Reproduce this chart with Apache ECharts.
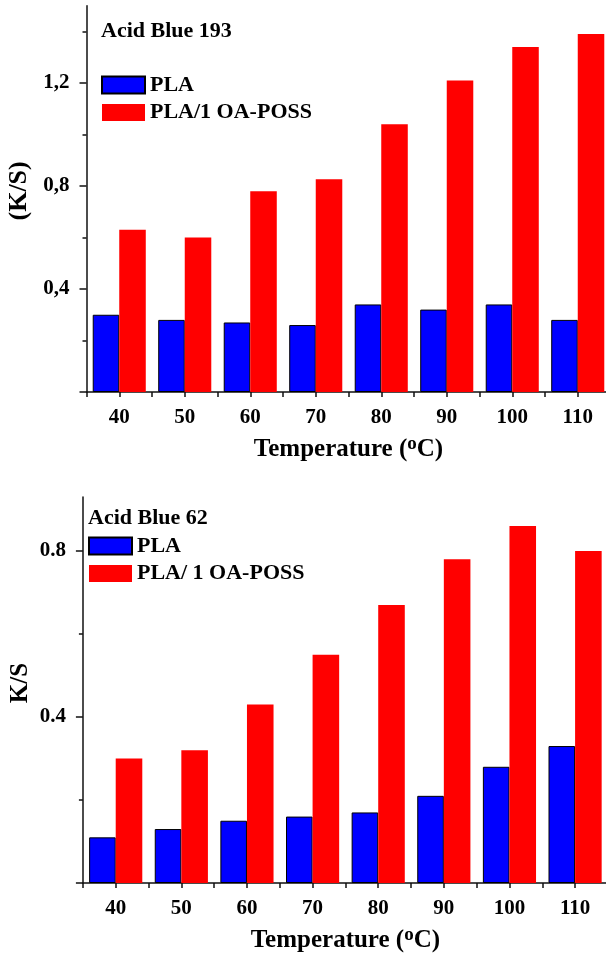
<!DOCTYPE html>
<html>
<head>
<meta charset="utf-8">
<script src="https://cdn.jsdelivr.net/npm/echarts@6/dist/echarts.min.js"></script>
<style>
  html, body { margin: 0; padding: 0; background: #fff; }
  #chart { width: 606px; height: 961px; }
</style>
</head>
<body>
<div id="chart"></div>
<script>
// temperatures (°C) on the x axis of both panels
const temps = ['40', '50', '60', '70', '80', '90', '100', '110']

// Acid Blue 193 panel (K/S)
const pla193  = [0.30, 0.28, 0.27, 0.26, 0.34, 0.32, 0.34, 0.28]
const poss193 = [0.63, 0.60, 0.78, 0.826, 1.04, 1.21, 1.34, 1.39]

// Acid Blue 62 panel (K/S)
const pla62  = [0.11, 0.13, 0.15, 0.16, 0.17, 0.21, 0.28, 0.33]
const poss62 = [0.30, 0.32, 0.43, 0.55, 0.67, 0.78, 0.86, 0.80]

// y axis ticks
const ticks193  = [0, 0.4, 0.8, 1.2]
const minor193  = [0.2, 0.6, 1.0, 1.4]
const labels193 = [0.4, 0.8, 1.2]
const ticks62   = [0, 0.4, 0.8]
const minor62   = [0.2, 0.6]
const labels62  = [0.4, 0.8]

const FONT = "'Liberation Serif', 'Times New Roman', serif"
const BLUE = '#0000FF'
const RED  = '#FF0000'
const AXIS = '#111'

// "Temperature (oC)" with a raised o
const tempName = '{n|Temperature (}{s|o}{n|C)}'
const tempRich = {
  n: { fontSize: 25, lineHeight: 25, fontWeight: 'bold', fontFamily: FONT, color: '#000', verticalAlign: 'bottom' },
  s: { fontSize: 19, lineHeight: 18, fontWeight: 'bold', fontFamily: FONT, color: '#000', verticalAlign: 'bottom', padding: [0, 0, 8, 0] },
}

function catAxis(grid, withLine) {
  return {
    type: 'category',
    gridIndex: grid,
    data: temps,
    position: 'bottom',
    axisLine: { show: withLine, lineStyle: { color: AXIS, width: 1.5 } },
    axisTick: { show: true, alignWithLabel: !withLine, length: 5, lineStyle: { color: AXIS, width: 1.5 } },
    axisLabel: {
      show: withLine, margin: 15,
      color: '#000', fontSize: 21, fontWeight: 'bold', fontFamily: FONT,
    },
    name: withLine ? tempName : '',
    nameLocation: 'middle',
    nameGap: 45,
    nameTextStyle: { rich: tempRich },
  }
}

function valAxis(grid, max, tickVals, labelVals, name, size, gap, pad, comma) {
  return {
    type: 'value',
    gridIndex: grid,
    position: 'left',
    min: 0,
    max: max,
    splitLine: { show: false },
    axisLine: { show: true, onZero: false, lineStyle: { color: AXIS, width: 1.5 } },
    axisTick: { show: true, length: 7, customValues: tickVals, lineStyle: { color: AXIS, width: 1.5 } },
    axisLabel: {
      customValues: labelVals,
      margin: 17,
      color: '#000', fontSize: 21, fontWeight: 'bold', fontFamily: FONT,
      formatter: v => comma ? String(v).replace('.', ',') : String(v),
    },
    name: name,
    nameLocation: 'middle',
    nameGap: gap,
    nameMoveOverlap: false,
    nameTextStyle: { color: '#000', fontSize: size, fontWeight: 'bold', fontFamily: FONT, padding: pad },
  }
}

function minorAxis(grid, max, vals) {
  return {
    type: 'value',
    gridIndex: grid,
    position: 'left',
    min: 0,
    max: max,
    splitLine: { show: false },
    axisLine: { show: false },
    axisLabel: { show: false },
    axisTick: { show: true, length: 4, customValues: vals, lineStyle: { color: AXIS, width: 1.5 } },
  }
}

function bars(name, data, color, x, y, border) {
  return {
    name: name,
    type: 'bar',
    xAxisIndex: x,
    yAxisIndex: y,
    data: data,
    barGap: '0%',
    barCategoryGap: '19%',
    itemStyle: border
      ? { color: color, borderColor: '#000', borderWidth: 1 }
      : { color: color },
  }
}

const legendText = { color: '#000', fontSize: 22, fontWeight: 'bold', fontFamily: FONT }
const titleText  = { color: '#000', fontSize: 22, fontWeight: 'bold', fontFamily: FONT }

const option = {
  backgroundColor: '#fff',
  animation: false,
  title: [
    { text: 'Acid Blue 193', left: 101, top: 20, padding: 0, textStyle: titleText },
    { text: 'Acid Blue 62', left: 88, top: 507, padding: 0, textStyle: titleText },
  ],
  legend: [
    {
      orient: 'vertical', left: 101, top: 74, padding: 0,
      itemWidth: 43, itemHeight: 17, itemGap: 5.5,
      icon: 'rect', textStyle: legendText,
      data: ['PLA', 'PLA/1 OA-POSS'],
    },
    {
      orient: 'vertical', left: 88, top: 535, padding: 0,
      itemWidth: 43, itemHeight: 17, itemGap: 5.4,
      icon: 'rect', textStyle: legendText,
      data: ['PLA ', 'PLA/ 1 OA-POSS'],
    },
  ],
  grid: [
    { left: 86.5, top: 5.75, width: 524, height: 386.25, outerBoundsMode: 'none' },
    { left: 82.9, top: 497, width: 525, height: 386, outerBoundsMode: 'none' },
  ],
  xAxis: [
    catAxis(0, true),
    catAxis(0, false),
    catAxis(1, true),
    catAxis(1, false),
  ],
  yAxis: [
    valAxis(0, 1.5, ticks193, labels193, '(K/S)', 26, 54, [0, 0, 0, 16], true),
    minorAxis(0, 1.5, minor193),
    valAxis(1, 0.93, ticks62, labels62, 'K/S', 25, 50, [0, 0, 0, 14], false),
    minorAxis(1, 0.93, minor62),
  ],
  series: [
    bars('PLA', pla193, BLUE, 0, 0, true),
    bars('PLA/1 OA-POSS', poss193, RED, 0, 0, false),
    bars('PLA ', pla62, BLUE, 2, 2, true),
    bars('PLA/ 1 OA-POSS', poss62, RED, 2, 2, false),
  ],
}

const chart = echarts.init(document.getElementById('chart'), null, { renderer: 'canvas' })
chart.setOption(option)
</script>
</body>
</html>
